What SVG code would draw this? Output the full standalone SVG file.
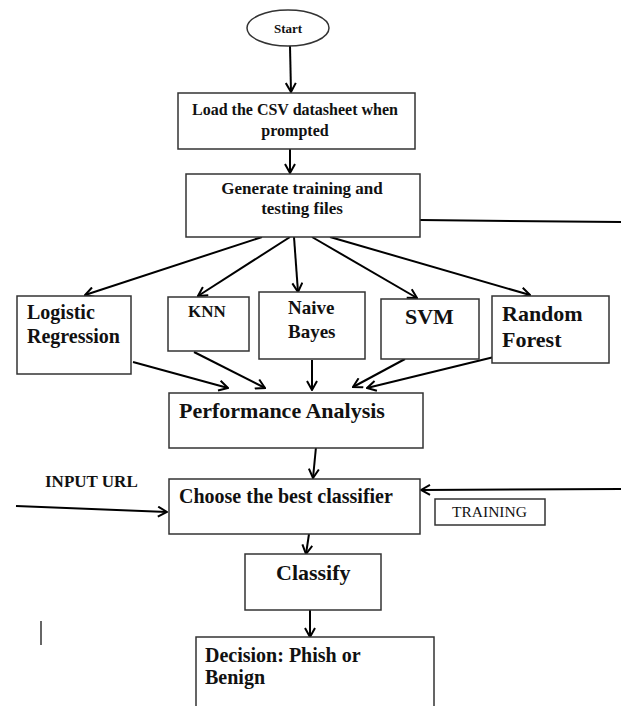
<svg xmlns="http://www.w3.org/2000/svg" width="621" height="706" viewBox="0 0 621 706">
<style>
.box{fill:#fff;stroke:#333;stroke-width:1.5}
.t{font-family:"Liberation Serif","Times New Roman",serif;font-weight:bold;fill:#111}
.n{font-weight:normal}
.c{stroke:#000;stroke-width:2;fill:none}
</style>
<defs>
<marker id="ah" viewBox="0 0 12 12" refX="11" refY="6" markerWidth="12" markerHeight="12" markerUnits="userSpaceOnUse" orient="auto">
<path d="M2,1 L11,6 L2,11" fill="none" stroke="#000" stroke-width="2"/>
</marker>
</defs>
<rect width="621" height="706" fill="#fff"/>
<g id="connectors">
<line class="c" x1="290" y1="46" x2="291" y2="92" marker-end="url(#ah)"/>
<line class="c" x1="290" y1="149" x2="290" y2="173" marker-end="url(#ah)"/>
<line class="c" x1="420" y1="220" x2="621" y2="222"/>
<line class="c" x1="262" y1="237" x2="85" y2="295" marker-end="url(#ah)"/>
<line class="c" x1="290" y1="237" x2="198" y2="296" marker-end="url(#ah)"/>
<line class="c" x1="294" y1="237" x2="298" y2="292" marker-end="url(#ah)"/>
<line class="c" x1="312" y1="237" x2="417" y2="298" marker-end="url(#ah)"/>
<line class="c" x1="330" y1="237" x2="530" y2="295" marker-end="url(#ah)"/>
<line class="c" x1="133" y1="362" x2="228" y2="388" marker-end="url(#ah)"/>
<line class="c" x1="194" y1="352" x2="265" y2="388" marker-end="url(#ah)"/>
<line class="c" x1="312" y1="360" x2="312" y2="390" marker-end="url(#ah)"/>
<line class="c" x1="405" y1="359" x2="353" y2="387" marker-end="url(#ah)"/>
<line class="c" x1="494" y1="357" x2="367" y2="388" marker-end="url(#ah)"/>
<line class="c" x1="316" y1="447" x2="313" y2="478" marker-end="url(#ah)"/>
<line class="c" x1="16" y1="506" x2="167" y2="512" marker-end="url(#ah)"/>
<line class="c" x1="621" y1="489" x2="421" y2="490" marker-end="url(#ah)"/>
<line class="c" x1="309" y1="534" x2="306" y2="554" marker-end="url(#ah)"/>
<line class="c" x1="310" y1="610" x2="310" y2="637" marker-end="url(#ah)"/>
</g>
<g id="start">
<ellipse class="box" cx="288" cy="28" rx="41" ry="18"/>
<text class="t" x="288" y="33" font-size="13" text-anchor="middle">Start</text>
</g>
<g id="load">
<rect class="box" x="178" y="93" width="237" height="56"/>
<text class="t" x="295" y="115" font-size="16" text-anchor="middle">Load the CSV datasheet when</text>
<text class="t" x="295" y="136" font-size="16" text-anchor="middle">prompted</text>
</g>
<g id="generate">
<rect class="box" x="186" y="174" width="234" height="63"/>
<text class="t" x="302" y="194" font-size="17" text-anchor="middle">Generate training and</text>
<text class="t" x="302" y="214" font-size="17" text-anchor="middle">testing files</text>
</g>
<g id="logistic">
<rect class="box" x="17" y="296" width="114" height="78"/>
<text class="t" x="27" y="319" font-size="20">Logistic</text>
<text class="t" x="27" y="343" font-size="20">Regression</text>
</g>
<g id="knn">
<rect class="box" x="168" y="297" width="81" height="54"/>
<text class="t" x="188" y="317" font-size="17">KNN</text>
</g>
<g id="naive">
<rect class="box" x="259" y="292" width="106" height="67"/>
<text class="t" x="288" y="314" font-size="19">Naive</text>
<text class="t" x="288" y="338" font-size="19">Bayes</text>
</g>
<g id="svm">
<rect class="box" x="381" y="299" width="98" height="60"/>
<text class="t" x="405" y="324" font-size="22">SVM</text>
</g>
<g id="random">
<rect class="box" x="492" y="296" width="117" height="67"/>
<text class="t" x="502" y="321" font-size="22">Random</text>
<text class="t" x="502" y="347" font-size="22">Forest</text>
</g>
<g id="performance">
<rect class="box" x="169" y="393" width="254" height="55"/>
<text class="t" x="179" y="418" font-size="22">Performance Analysis</text>
</g>
<g id="input-url">
<text class="t" x="45" y="487" font-size="17">INPUT URL</text>
</g>
<g id="choose">
<rect class="box" x="169" y="479" width="251" height="55"/>
<text class="t" x="179" y="503" font-size="20">Choose the best classifier</text>
</g>
<g id="training">
<rect class="box" x="435" y="499" width="110" height="26"/>
<text class="t n" x="452" y="517" font-size="15.5">TRAINING</text>
</g>
<g id="classify">
<rect class="box" x="245" y="554" width="136" height="56"/>
<text class="t" x="276" y="580" font-size="22">Classify</text>
</g>
<g id="decision">
<rect class="box" x="196" y="637" width="238" height="80"/>
<text class="t" x="205" y="662" font-size="20">Decision: Phish or</text>
<text class="t" x="205" y="684" font-size="20">Benign</text>
</g>
<line x1="41" y1="621" x2="41" y2="645" stroke="#333" stroke-width="1.5"/>
</svg>
